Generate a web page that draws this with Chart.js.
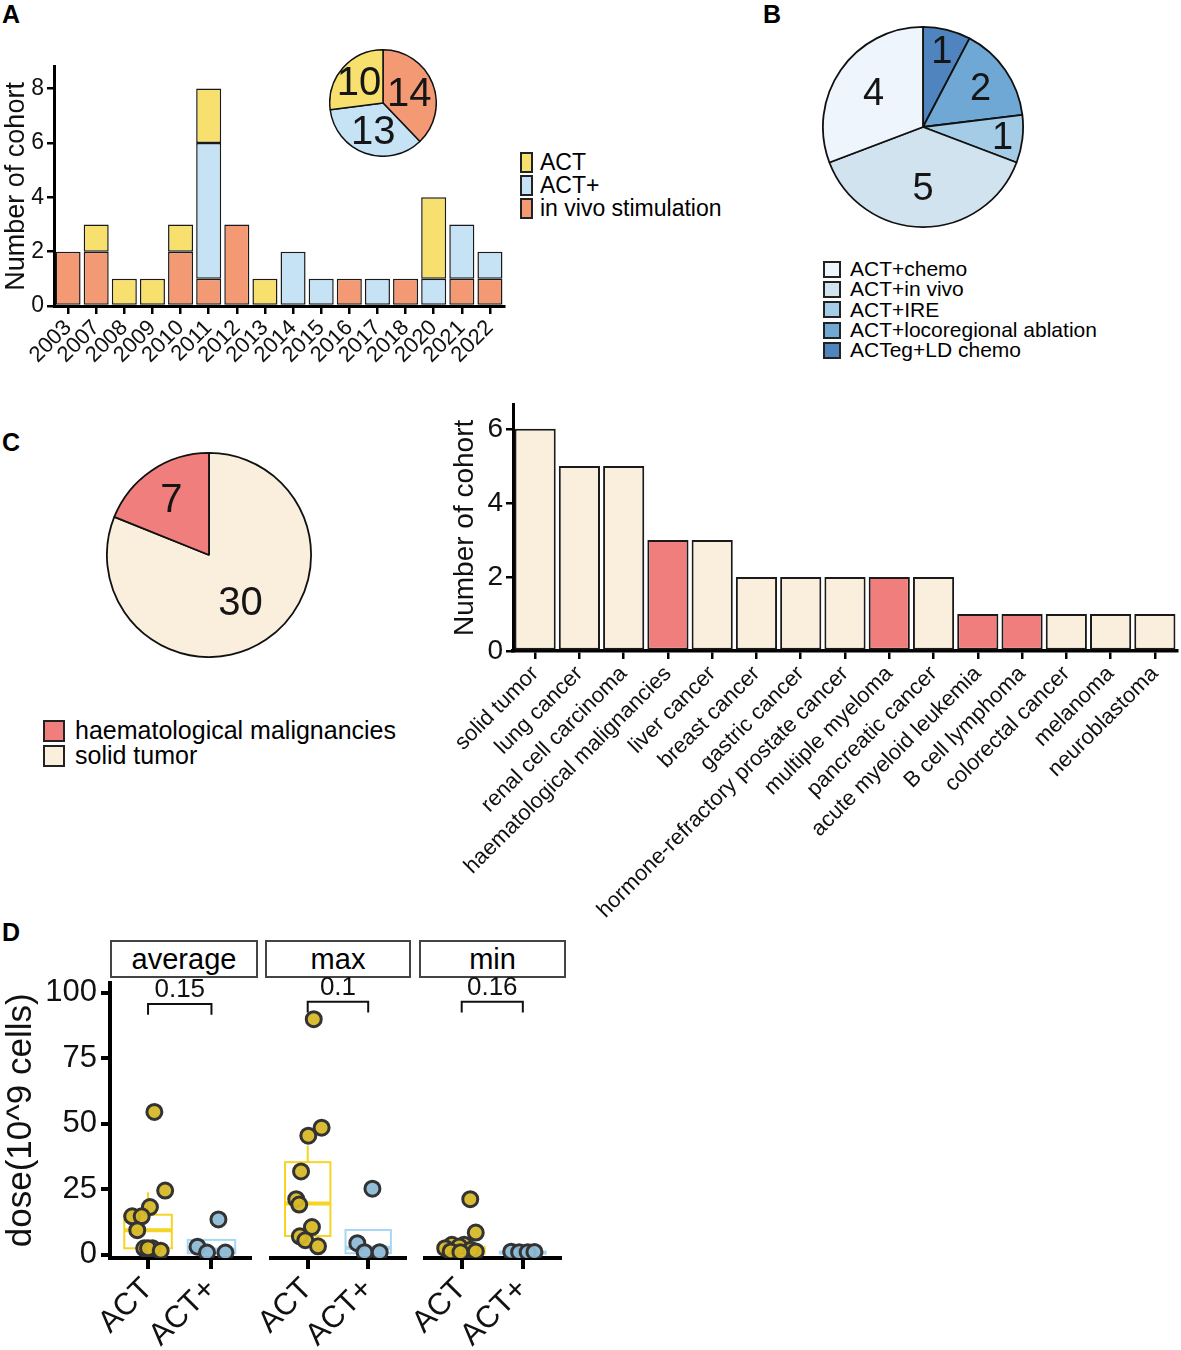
<!DOCTYPE html>
<html>
<head>
<meta charset="utf-8">
<script src="https://cdn.jsdelivr.net/npm/chart.js@4.4.0/dist/chart.umd.min.js"></script>
<style>
  body { margin: 0; background: #fff; }
  #page { position: relative; width: 1181px; height: 1350px; overflow: hidden;
          font-family: 'Liberation Sans', Arial, sans-serif; color: #000; }
  canvas { position: absolute; }
  .tag { position: absolute; font-weight: bold; font-size: 25px; line-height: 25px; }
  .leg { position: absolute; }
  .row { display: flex; align-items: center; white-space: nowrap; }
  .key { box-sizing: border-box; border: 2px solid #222; }
  .strip { position: absolute; box-sizing: border-box; border: 2px solid #444;
           text-align: center; font-size: 29px; line-height: 34px; }
</style>
</head>
<body>
<div id="page">
  <div class="tag" style="left:2px;top:2px">A</div>
  <div class="tag" style="left:763px;top:2px">B</div>
  <div class="tag" style="left:2px;top:430px">C</div>
  <div class="tag" style="left:2px;top:920px">D</div>

  <canvas id="yearBar" style="left:0;top:50px" width="515" height="340"></canvas>
  <canvas id="typePie" style="left:329px;top:49px" width="108" height="108"></canvas>
  <div class="leg" id="legA" style="left:520px;top:151px"></div>

  <canvas id="comboPie" style="left:822px;top:26px" width="202" height="202"></canvas>
  <div class="leg" id="legB" style="left:823px;top:259px"></div>

  <canvas id="tumorPie" style="left:106px;top:452px" width="206" height="206"></canvas>
  <div class="leg" id="legC" style="left:43px;top:718px"></div>
  <canvas id="cancerBar" style="left:448px;top:385px" width="733" height="545"></canvas>

  <div class="strip" style="left:110px;top:940px;width:148px;height:38px">average</div>
  <div class="strip" style="left:265px;top:940px;width:146px;height:38px">max</div>
  <div class="strip" style="left:419px;top:940px;width:147px;height:38px">min</div>
  <canvas id="dose0" style="left:0;top:960px" width="260" height="390"></canvas>
  <canvas id="dose1" style="left:259px;top:960px" width="156" height="390"></canvas>
  <canvas id="dose2" style="left:413px;top:960px" width="157" height="390"></canvas>
</div>

<script>
// ---- A: cohorts per year ----
const years = ['2003','2007','2008','2009','2010','2011','2012','2013','2014','2015','2016','2017','2018','2020','2021','2022'];
const actByYear     = [0,1,1,1,1,2,0,1,0,0,0,0,0,3,0,0];
const actPlusByYear = [0,0,0,0,0,5,0,0,2,1,0,1,0,1,2,1];
const inVivoByYear  = [2,2,0,0,2,1,3,0,0,0,1,0,1,0,1,1];
const yearTicks = [0, 2, 4, 6, 8];
const typeNames  = ['in vivo stimulation', 'ACT+', 'ACT'];
const typeTotals = [14, 13, 10];

// ---- B: ACT+ combinations ----
const comboNames  = ['ACTeg+LD chemo', 'ACT+locoregional ablation', 'ACT+IRE', 'ACT+in vivo', 'ACT+chemo'];
const comboCounts = [1, 2, 1, 5, 4];

// ---- C: tumour types ----
const tumorGroups = ['solid tumor', 'haematological malignancies'];
const tumorCounts = [30, 7];
const cancers = ['solid tumor','lung cancer','renal cell carcinoma','haematological malignancies','liver cancer',
  'breast cancer','gastric cancer','hormone-refractory prostate cancer','multiple myeloma','pancreatic cancer',
  'acute myeloid leukemia','B cell lymphoma','colorectal cancer','melanoma','neuroblastoma'];
const cancerCounts = [6,5,5,3,3,2,2,2,2,2,1,1,1,1,1];
const cancerIsHaem = [0,0,0,1,0,0,0,0,1,0,1,1,0,0,0];
const cancerTicks = [0, 2, 4, 6];

// ---- D: dose (10^9 cells) ----
const doseFacets = ['average', 'max', 'min'];
const doseGroups = ['ACT', 'ACT+'];
const doseTicks = [0, 25, 50, 75, 100];
const pValues = ['0.15', '0.1', '0.16'];
const actAverage        = [54.5, 24.5, 18.2, 14.7, 14.7, 9.4, 2.5, 2.5, 2.5, 1.6];
const actAverageJitter  = [0.10, 0.27, 0.03, -0.25, -0.10, -0.17, -0.06, 0.07, 0.0, 0.20];
const actPlusAverage       = [13.5, 3.1, 0.9, 0.9];
const actPlusAverageJitter = [0.11, -0.22, -0.07, 0.22];
const actMax        = [89, 48, 45, 31.5, 21, 19, 10.5, 7, 5.5, 3.2];
const actMaxJitter  = [0.10, 0.23, 0.01, -0.11, -0.19, -0.14, 0.07, -0.13, -0.04, 0.17];
const actPlusMax       = [25, 4.4, 1, 1];
const actPlusMaxJitter = [0.07, -0.18, -0.06, 0.19];
const actMin        = [21, 8.4, 3.8, 3.8, 3.1, 2.5, 1.9, 1.3, 1.0, 1.3];
const actMinJitter  = [0.14, 0.23, -0.16, 0.04, -0.04, -0.27, 0.15, -0.18, -0.02, 0.23];
const actPlusMin       = [1.2, 1.0, 1.0, 1.1];
const actPlusMinJitter = [-0.19, -0.06, 0.08, 0.19];
// box stats: [lower whisker, q1, median, q3, upper whisker]
const actAverageBox     = [1.6, 2.5, 9.4, 15.3, 23.9];
const actPlusAverageBox = [0.6, 0.6, 2.0, 5.7, 5.7];
const actMaxBox         = [3.2, 7.1, 19.4, 35, 41.3];
const actPlusMaxBox     = [0.6, 0.6, 2.7, 9.4, 9.4];
const actMinBox         = [0.3, 0.5, 1.5, 3.0, 4.0];
const actPlusMinBox     = [0.4, 0.5, 0.9, 1.1, 1.2];

const FONT = "'Liberation Sans', Arial, sans-serif";
Chart.defaults.font.family = FONT;
Chart.defaults.color = '#111';
Chart.defaults.animation = false;
Chart.defaults.events = [];
Chart.defaults.plugins.legend.display = false;
Chart.defaults.plugins.tooltip.enabled = false;

const yellow = '#F7E06E', lightBlue = '#C6E2F5', orange = '#F39A74';
const blues = ['#4F84BE', '#70A8D5', '#A5CCE6', '#D1E3EF', '#EFF5FC'];
const red = '#F07E7C', cream = '#FAEEDC';

function legend(id, names, colors, keyW, keyH, gap, rowH, size) {
  const el = document.getElementById(id);
  names.forEach((n, i) => {
    const row = document.createElement('div');
    row.className = 'row';
    row.style.height = rowH + 'px';
    row.style.fontSize = size + 'px';
    row.innerHTML = `<span class="key" style="width:${keyW}px;height:${keyH}px;background:${colors[i]};margin-right:${gap}px"></span>${n}`;
    el.appendChild(row);
  });
}
legend('legA', ['ACT', 'ACT+', 'in vivo stimulation'], [yellow, lightBlue, orange], 13, 21, 7, 23, 23);
legend('legB', ['ACT+chemo','ACT+in vivo','ACT+IRE','ACT+locoregional ablation','ACTeg+LD chemo'],
       [blues[4], blues[3], blues[2], blues[1], blues[0]], 18, 17, 9, 20.3, 21);
legend('legC', ['haematological malignancies', 'solid tumor'], [red, cream], 22, 22, 10, 25, 25);

// numbers inside pie slices
const sliceLabels = {
  id: 'sliceLabels',
  afterDatasetsDraw(chart, args, opts) {
    const ctx = chart.ctx;
    const vals = chart.data.datasets[0].data;
    ctx.save();
    ctx.font = opts.size + 'px ' + FONT;
    ctx.fillStyle = '#151515';
    ctx.textAlign = 'center';
    ctx.textBaseline = 'middle';
    chart.getDatasetMeta(0).data.forEach((arc, i) => {
      const p = arc.getProps(['x', 'y', 'startAngle', 'endAngle', 'outerRadius'], true);
      const mid = (p.startAngle + p.endAngle) / 2;
      const r = p.outerRadius * opts.radius[i];
      ctx.fillText(String(vals[i]), p.x + Math.cos(mid) * r, p.y + Math.sin(mid) * r + 2);
    });
    ctx.restore();
  }
};

function pie(id, values, colors, size, radius, bw) {
  new Chart(document.getElementById(id), {
    type: 'pie',
    data: { datasets: [{ data: values, backgroundColor: colors, borderColor: '#111', borderWidth: bw }] },
    options: { responsive: false, layout: { padding: 0 }, plugins: { sliceLabels: { size, radius } } },
    plugins: [sliceLabels]
  });
}
pie('typePie', typeTotals, [orange, lightBlue, yellow], 40, [0.53, 0.55, 0.6], 1.5);
pie('comboPie', comboCounts, blues, 38, [0.79, 0.7, 0.8, 0.6, 0.6], 1.8);
pie('tumorPie', tumorCounts, [cream, red], 40, [0.55, 0.66], 1.8);

function axisStyle(extra) {
  return Object.assign({
    grid: { display: true, drawOnChartArea: false, drawTicks: true, tickLength: 7, lineWidth: 2.5, color: '#000' },
    border: { display: true, width: 3, color: '#000' }
  }, extra);
}
const fixedTicks = values => s => { s.ticks = values.map(v => ({ value: v })); };

// ---- A bar ----
const barBorder = { borderColor: '#1a1a1a', borderWidth: 1.5, borderSkipped: false, barPercentage: 0.89, categoryPercentage: 1 };
new Chart(document.getElementById('yearBar'), {
  type: 'bar',
  data: {
    labels: years,
    datasets: [
      Object.assign({ label: 'in vivo stimulation', data: inVivoByYear.map(v => v || null), backgroundColor: orange }, barBorder),
      Object.assign({ label: 'ACT+', data: actPlusByYear.map(v => v || null), backgroundColor: lightBlue }, barBorder),
      Object.assign({ label: 'ACT', data: actByYear.map(v => v || null), backgroundColor: yellow }, barBorder)
    ]
  },
  options: {
    responsive: false,
    layout: { padding: { top: 10, right: 11 } },
    scales: {
      x: axisStyle({ stacked: true, grid: { display: true, offset: false, drawOnChartArea: false, tickLength: 8, lineWidth: 2.5, color: '#000' },
        ticks: { minRotation: 45, maxRotation: 45, autoSkip: false, font: { size: 22 }, padding: 1 },
        afterFit: s => { s.height = 84; } }),
      y: axisStyle({ stacked: true, min: 0, max: 8.8, ticks: { font: { size: 23 }, padding: 3 },
        afterBuildTicks: fixedTicks(yearTicks),
        title: { display: true, text: 'Number of cohort', font: { size: 27 }, padding: 0 },
        afterFit: s => { s.width = 54; } })
    }
  }
});

// ---- C bar ----
new Chart(document.getElementById('cancerBar'), {
  type: 'bar',
  data: {
    labels: cancers,
    datasets: [{ label: 'cohorts', data: cancerCounts, backgroundColor: cancerIsHaem.map(h => h ? red : cream),
      borderColor: '#1a1a1a', borderWidth: 2, borderSkipped: false, barPercentage: 0.93, categoryPercentage: 1 }]
  },
  options: {
    responsive: false,
    layout: { padding: { top: 13, right: 4 } },
    scales: {
      x: axisStyle({ grid: { display: true, offset: false, drawOnChartArea: false, tickLength: 8, lineWidth: 2.5, color: '#000' },
        border: { display: true, width: 3.5, color: '#000' },
        ticks: { minRotation: 45, maxRotation: 45, autoSkip: false, font: { size: 22 }, padding: 2 },
        afterFit: s => { s.height = 279; } }),
      y: axisStyle({ min: 0, max: 6.65, ticks: { font: { size: 28 }, padding: 3 },
        afterBuildTicks: fixedTicks(cancerTicks),
        title: { display: true, text: 'Number of cohort', font: { size: 28 }, padding: 0 },
        afterFit: s => { s.width = 65; } })
    }
  }
});

// ---- D dose facets ----
const boxPlugin = {
  id: 'boxes',
  beforeDatasetsDraw(chart, args, opts) {
    const { ctx, scales: { x, y } } = chart;
    opts.boxes.forEach(b => {
      const [lo, q1, med, q3, hi] = b.stats;
      const xl = x.getPixelForValue(b.pos - 0.375), xr = x.getPixelForValue(b.pos + 0.375);
      const xc = x.getPixelForValue(b.pos);
      ctx.save();
      ctx.strokeStyle = b.color;
      ctx.lineWidth = 2;
      ctx.beginPath();
      ctx.moveTo(xc, y.getPixelForValue(hi)); ctx.lineTo(xc, y.getPixelForValue(q3));
      ctx.moveTo(xc, y.getPixelForValue(q1)); ctx.lineTo(xc, y.getPixelForValue(lo));
      ctx.stroke();
      ctx.strokeRect(xl, y.getPixelForValue(q3), xr - xl, y.getPixelForValue(q1) - y.getPixelForValue(q3));
      ctx.lineWidth = 4;
      ctx.beginPath();
      ctx.moveTo(xl, y.getPixelForValue(med)); ctx.lineTo(xr, y.getPixelForValue(med));
      ctx.stroke();
      ctx.restore();
    });
  },
  afterDraw(chart, args, opts) {
    const { ctx, scales: { x, y } } = chart;
    const x1 = x.getPixelForValue(1), x2 = x.getPixelForValue(2);
    const yTop = y.getPixelForValue(95.6), yEnd = y.getPixelForValue(91.5);
    ctx.save();
    ctx.strokeStyle = '#111';
    ctx.lineWidth = 2;
    ctx.beginPath();
    ctx.moveTo(x1, yEnd); ctx.lineTo(x1, yTop); ctx.lineTo(x2, yTop); ctx.lineTo(x2, yEnd);
    ctx.stroke();
    ctx.font = '26px ' + FONT;
    ctx.fillStyle = '#111';
    ctx.textAlign = 'center';
    ctx.textBaseline = 'bottom';
    ctx.fillText(opts.p, (x1 + x2) / 2, yTop - 1);
    ctx.restore();
  }
};

const actFill = 'rgba(214,184,40,0.95)', actPlusFill = 'rgba(142,186,214,0.95)';
const boxYellow = '#F6D424', boxBlue = '#A6D7F4';
const facetData = [
  { act: actAverage, actJ: actAverageJitter, plus: actPlusAverage, plusJ: actPlusAverageJitter, actBox: actAverageBox, plusBox: actPlusAverageBox },
  { act: actMax, actJ: actMaxJitter, plus: actPlusMax, plusJ: actPlusMaxJitter, actBox: actMaxBox, plusBox: actPlusMaxBox },
  { act: actMin, actJ: actMinJitter, plus: actPlusMin, plusJ: actPlusMinJitter, actBox: actMinBox, plusBox: actPlusMinBox }
];

facetData.forEach((f, k) => {
  const first = k === 0;
  const pts = (vals, jit, pos) => vals.map((v, i) => ({ x: pos + jit[i], y: v }));
  const yScale = {
    display: first, min: -1.2, max: 103.8,
    afterBuildTicks: fixedTicks(doseTicks)
  };
  if (first) Object.assign(yScale, {
    ticks: { font: { size: 31 }, padding: 4 },
    grid: { display: true, drawOnChartArea: false, tickLength: 9, lineWidth: 4, color: '#000' },
    border: { display: true, width: 4, color: '#000' },
    title: { display: true, text: 'dose(10^9 cells)', font: { size: 35 }, padding: 0 },
    afterFit: s => { s.width = 110; }
  });
  new Chart(document.getElementById('dose' + k), {
    type: 'scatter',
    data: {
      datasets: [
        { label: doseFacets[k] + ' ACT', data: pts(f.act, f.actJ, 1), backgroundColor: actFill, borderColor: '#333', borderWidth: 3, pointRadius: 7.5 },
        { label: doseFacets[k] + ' ACT+', data: pts(f.plus, f.plusJ, 2), backgroundColor: actPlusFill, borderColor: '#333', borderWidth: 3, pointRadius: 7.5 }
      ]
    },
    options: {
      responsive: false,
      layout: { padding: first ? { top: 20, right: 2 } : { top: 20, left: 6, right: 4 } },
      plugins: {
        boxes: {
          boxes: [{ pos: 1, stats: f.actBox, color: boxYellow }, { pos: 2, stats: f.plusBox, color: boxBlue }],
          p: pValues[k]
        }
      },
      scales: {
        x: {
          type: 'linear', min: 0.4, max: 2.6,
          afterBuildTicks: s => { s.ticks = [{ value: 1 }, { value: 2 }]; },
          ticks: { callback: v => doseGroups[v - 1], minRotation: 45, maxRotation: 45, autoSkip: false, font: { size: 31 }, padding: 2 },
          grid: { display: true, drawOnChartArea: false, tickLength: 11, lineWidth: 4, color: '#000' },
          border: { display: true, width: 4, color: '#000' },
          afterFit: s => { s.height = 92; }
        },
        y: yScale
      }
    },
    plugins: [boxPlugin]
  });
});
</script>
</body>
</html>
